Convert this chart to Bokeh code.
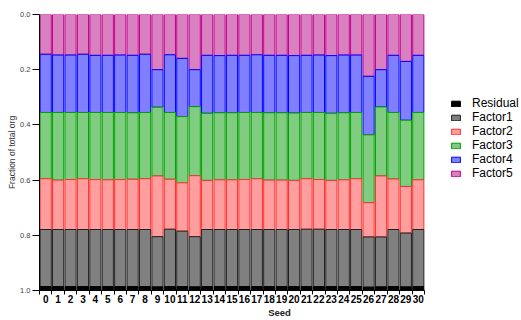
from bokeh.plotting import figure
from bokeh.models import (ColumnDataSource, Range1d, FixedTicker, Legend, LegendItem,
                          PrintfTickFormatter)
from bokeh.embed import file_html
from bokeh.resources import INLINE

seeds = list(range(31))
factor5 = [0.144, 0.147, 0.147, 0.144, 0.148, 0.148, 0.147, 0.148, 0.144, 0.200, 0.146,
           0.159, 0.200, 0.148, 0.149, 0.148, 0.148, 0.146, 0.148, 0.148, 0.149, 0.148,
           0.147, 0.149, 0.147, 0.147, 0.224, 0.200, 0.148, 0.170, 0.148]
factor4 = [0.211, 0.208, 0.208, 0.211, 0.207, 0.207, 0.208, 0.208, 0.211, 0.136, 0.209,
           0.211, 0.134, 0.210, 0.207, 0.208, 0.207, 0.209, 0.208, 0.208, 0.208, 0.207,
           0.208, 0.209, 0.209, 0.208, 0.212, 0.135, 0.207, 0.213, 0.207]
factor3 = [0.240, 0.245, 0.243, 0.240, 0.243, 0.244, 0.243, 0.241, 0.240, 0.249, 0.242,
           0.240, 0.250, 0.243, 0.243, 0.243, 0.243, 0.240, 0.244, 0.244, 0.244, 0.240,
           0.243, 0.243, 0.243, 0.240, 0.246, 0.250, 0.241, 0.240, 0.244]
factor2 = [0.184, 0.179, 0.181, 0.184, 0.181, 0.180, 0.181, 0.182, 0.184, 0.220, 0.181,
           0.175, 0.221, 0.178, 0.180, 0.180, 0.181, 0.184, 0.179, 0.179, 0.178, 0.183,
           0.180, 0.178, 0.180, 0.184, 0.124, 0.221, 0.183, 0.169, 0.180]
factor1 = [0.207, 0.207, 0.207, 0.207, 0.207, 0.207, 0.207, 0.207, 0.207, 0.182, 0.208,
           0.201, 0.182, 0.207, 0.207, 0.207, 0.207, 0.207, 0.207, 0.207, 0.207, 0.208,
           0.208, 0.207, 0.207, 0.207, 0.182, 0.181, 0.207, 0.195, 0.207]
residual = [0.014] * 31

y_ticks = [0.0, 0.2, 0.4, 0.6, 0.8, 1.0]

names = ["Factor5", "Factor4", "Factor3", "Factor2", "Factor1", "Residual"]
fills = ["#D880C0", "#8080FF", "#80CC80", "#FF9E9E", "#808080", "#000000"]
lines = ["#C0008A", "#0000FF", "#00A000", "#FF3030", "#202020", "#000000"]

source = ColumnDataSource(dict(x=seeds, Factor5=factor5, Factor4=factor4, Factor3=factor3,
                               Factor2=factor2, Factor1=factor1, Residual=residual))

FONT = "Liberation Sans"

# frame spans past the bars so that the legend sits inside it
X_START = -0.5
X_BARS_END = 30.5
X_END = 38.15

p = figure(width=521, height=320, output_backend="svg", toolbar_location=None,
           x_range=Range1d(X_START, X_END), y_range=Range1d(1.0, 0.0),
           min_border_left=39, min_border_right=2, min_border_top=14, min_border_bottom=28)
p.outline_line_color = None
p.xgrid.visible = False
p.ygrid.visible = False

renderers = p.vbar_stack(names, x="x", width=0.9, source=source,
                         fill_color=fills, line_color=lines, line_width=1)

# y axis
ya = p.yaxis[0]
ya.ticker = FixedTicker(ticks=y_ticks)
ya.formatter = PrintfTickFormatter(format="%.1f")
ya.major_label_text_font = FONT
ya.major_label_text_font_size = "7.5px"
ya.major_label_text_color = "#444444"
ya.major_tick_out = 7
ya.major_tick_in = 0
ya.major_label_standoff = 2
ya.axis_label = "Fraction of total org"
ya.axis_label_text_font = FONT
ya.axis_label_text_font_size = "8.5px"
ya.axis_label_text_font_style = "normal"
ya.axis_label_text_color = "#333333"
ya.axis_label_standoff = 0
ya.axis_line_color = "black"

# x axis
xa = p.xaxis[0]
xa.bounds = (X_START, X_BARS_END)
xa.ticker = FixedTicker(ticks=seeds, minor_ticks=[s - 0.5 for s in seeds] + [X_BARS_END])
xa.major_tick_out = 0
xa.major_tick_in = 0
xa.minor_tick_out = 4
xa.minor_tick_in = 0
xa.minor_tick_line_color = "black"
xa.major_label_text_font = FONT
xa.major_label_text_font_size = "10px"
xa.major_label_text_font_style = "bold"
xa.major_label_text_color = "black"
xa.major_label_standoff = 0
xa.axis_label = "Seed"
xa.axis_label_text_font = FONT
xa.axis_label_text_font_size = "9.5px"
xa.axis_label_text_font_style = "bold"
xa.axis_label_text_color = "#222222"
xa.axis_label_standoff = 1
xa.axis_line_color = "black"

items = [LegendItem(label=n, renderers=[r]) for n, r in zip(names, renderers)][::-1]
legend = Legend(items=items, location=(411, 110))
legend.padding = 0
legend.margin = 0
legend.spacing = 0
legend.border_line_alpha = 0
legend.background_fill_alpha = 0
legend.glyph_width = 11
legend.glyph_height = 7
legend.label_standoff = 11
legend.label_height = 14
legend.label_text_font = FONT
legend.label_text_font_size = "12px"
legend.label_text_color = "black"
p.add_layout(legend)

open("out.html", "w").write(file_html(p, INLINE))
